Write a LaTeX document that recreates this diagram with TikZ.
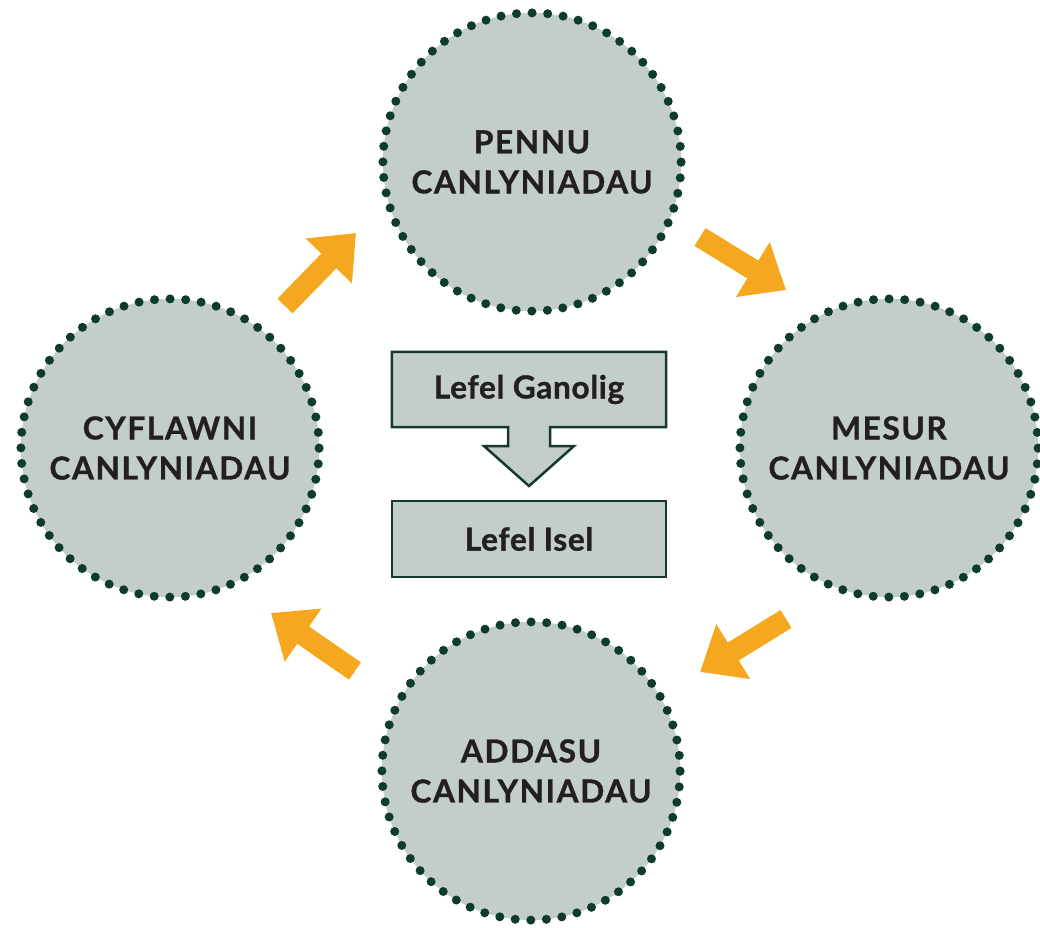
\documentclass[tikz,border=0pt]{standalone}
\usepackage{fontspec}
\usetikzlibrary{arrows.meta, calc, backgrounds}
\newfontfamily\stagefamily{Lato}[LetterSpace=5, BoldFeatures={FakeBold=1}]
\newfontfamily\levelfamily{Lato}[LetterSpace=2, BoldFeatures={FakeBold=1}]
\newcommand{\stagefont}{\stagefamily\bfseries\fontsize{9pt}{11.4pt}\selectfont}
\newcommand{\levelfont}{\levelfamily\bfseries\fontsize{9pt}{10pt}\selectfont}
\definecolor{discfill}{HTML}{C3CEC9}
\definecolor{dotgreen}{HTML}{0E3B2F}
\definecolor{boxline}{HTML}{16392E}
\definecolor{arroworange}{HTML}{F5A81F}
\definecolor{textdark}{HTML}{231F20}

\begin{document}
\begin{tikzpicture}[x=0.01cm, y=-0.01cm,
  stage/.style={circle, minimum size=2.98cm, fill=discfill, draw=dotgreen, line width=0.09cm, line cap=round, dash pattern=on 0pt off 0.156cm, align=center, text=textdark, font=\stagefont},
  level/.style={minimum width=2.74cm, minimum height=0.75cm, outer sep=0pt, text=textdark, font=\levelfont},
  flow/.style={draw=arroworange, line width=0.21cm, -{Triangle[width=0.62cm, length=0.39cm]}}]
\useasboundingbox (0,0) rectangle (1040,928);

% the four stages of the cycle
\node (pennu) [stage] at (532,162) {PENNU\\CANLYNIADAU};
\node (mesur) [stage] at (889,448) {MESUR\\CANLYNIADAU};
\node (addasu) [stage] at (531,771) {ADDASU\\CANLYNIADAU};
\node (cyflawni) [stage] at (170,448) {CYFLAWNI\\CANLYNIADAU};

% orange arrows between the stages
\coordinate (cp-tail) at (285,306);
\coordinate (cp-head) at (356,233);
\coordinate (pm-tail) at (700,237);
\coordinate (pm-head) at (786,290);
\coordinate (ma-tail) at (786,619);
\coordinate (ma-head) at (700,672);
\coordinate (ac-tail) at (355,671);
\coordinate (ac-head) at (271,613);
\draw[flow] (cp-tail) -- (cp-head);
\draw[flow] (pm-tail) -- (pm-head);
\draw[flow] (ma-tail) -- (ma-head);
\draw[flow] (ac-tail) -- (ac-head);

% levels in the middle
\node (ganolig) [level] at (529,389.5) {Lefel Ganolig};
\begin{scope}[on background layer]
\draw [fill=discfill, draw=boxline, line width=0.025cm, line join=miter] (ganolig.north west) -- (ganolig.north east) -- (ganolig.south east) -- ($(ganolig.south)+(21,0)$) -- ++(0,19) -- ++(24,0) -- ($(ganolig.south)+(0,59)$) -- ++(-45,-40) -- ++(24,0) -- ++(0,-19) -- (ganolig.south west) -- cycle;
\end{scope}
\node (isel) [level, minimum height=0.76cm, fill=discfill, draw=boxline, line width=0.025cm] at (529,539) {Lefel Isel};
\end{tikzpicture}
\end{document}
